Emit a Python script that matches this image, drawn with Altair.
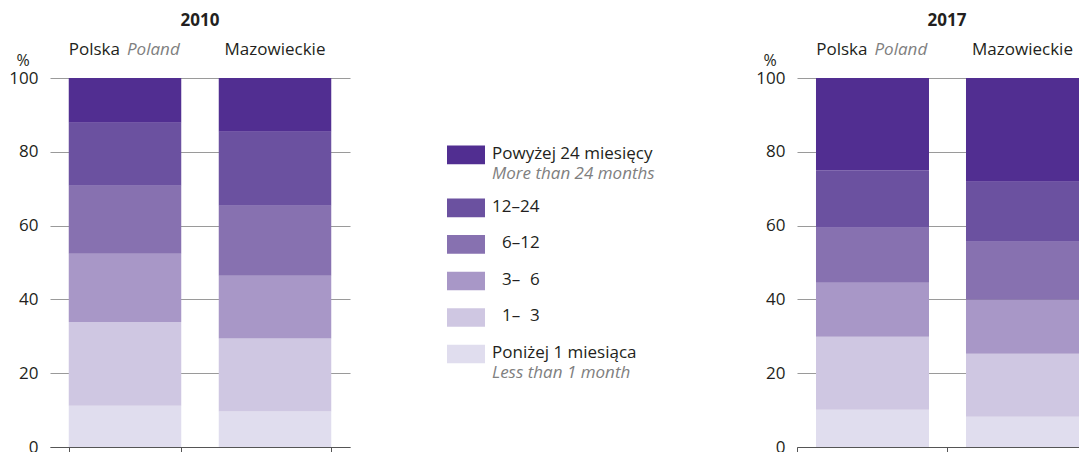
import altair as alt
import pandas as pd

# ---- data ----
categories = ["Polska", "Mazowieckie"]
category_sub = ["Poland", ""]
years = ["2010", "2017"]
# stacked bottom -> top
durations = ["<1", "1-3", "3-6", "6-12", "12-24", ">24"]
values_2010_polska = [11.2, 22.7, 18.5, 18.4, 17.1, 12.1]
values_2010_mazowieckie = [9.6, 19.8, 17.0, 19.0, 20.0, 14.6]
values_2017_polska = [10.1, 19.8, 14.6, 14.9, 15.5, 25.1]
values_2017_mazowieckie = [8.2, 17.1, 14.6, 15.7, 16.3, 28.1]

legend_main = ["Poniżej 1 miesiąca", "1\u2013\u20073", "3\u2013\u20076",
               "6\u201312", "12\u201324", "Powyżej 24 miesięcy"]
legend_sub = ["Less than 1 month", "", "", "", "", "More than 24 months"]

colors = ["#e0ddee", "#cfc7e2", "#a897c7", "#8771b0", "#6b51a0", "#512e91"]
y_ticks = [0, 20, 40, 60, 80, 100]

FONT = "Open Sans"
TXT = "#231f20"
GRAY = "#808080"
FS = 17
H = 369


def panel(year, polska_vals, maz_vals, width, clipped):
    rows = []
    for cat, vals in zip(categories, [polska_vals, maz_vals]):
        for i, (d, v) in enumerate(zip(durations, vals)):
            rows.append({"category": cat, "duration": d, "order": i, "value": v})
    df = pd.DataFrame(rows)
    if clipped:
        xscale = alt.Scale(paddingInner=37 / 150, paddingOuter=0.0633, align=1)
        xaxis = alt.Axis(labels=False, title=None, domain=True, ticks=True,
                         tickOffset=-75, tickSize=8, domainColor="#555555",
                         tickColor="#555555", grid=False)
    else:
        xscale = alt.Scale(paddingInner=0.25, paddingOuter=0.125)
        xaxis = alt.Axis(labels=False, title=None, domain=True, ticks=True,
                         tickBand="extent", tickSize=8, domainColor="#555555",
                         tickColor="#555555", grid=False)
    xenc = alt.X("category:N", sort=categories, scale=xscale, axis=xaxis)
    bars = alt.Chart(df).mark_bar().encode(
        x=xenc,
        y=alt.Y("value:Q", stack="zero", scale=alt.Scale(domain=[0, 100]),
                axis=alt.Axis(values=y_ticks, grid=True, gridColor="#9a9a9a", gridWidth=1.2,
                              domain=False, ticks=False, labelPadding=12, title=None,
                              labelFontSize=FS, labelColor=TXT, labelFont=FONT)),
        color=alt.Color("duration:N", scale=alt.Scale(domain=durations, range=colors), legend=None),
        order=alt.Order("order:Q"),
    )
    lab = pd.DataFrame({"category": categories, "sub": category_sub})
    with_sub = alt.Chart(lab).transform_filter("datum.sub != ''")
    no_sub = alt.Chart(lab).transform_filter("datum.sub == ''")
    xl = alt.X("category:N", sort=categories)
    main1 = with_sub.mark_text(align="right", dx=-5, baseline="alphabetic", fontSize=FS,
                               font=FONT, color=TXT).encode(x=xl, y=alt.value(-23), text="category:N")
    sub1 = with_sub.mark_text(align="left", dx=2, baseline="alphabetic", fontSize=FS, font=FONT,
                              color=GRAY, fontStyle="italic").encode(
        x=xl, y=alt.value(-23), text="sub:N")
    main2 = no_sub.mark_text(align="center", baseline="alphabetic", fontSize=FS, font=FONT,
                             color=TXT).encode(x=xl, y=alt.value(-23), text="category:N")
    ttl = alt.Chart(pd.DataFrame({"t": [year]})).mark_text(
        fontSize=FS, font=FONT, fontWeight="bold", color=TXT, baseline="alphabetic").encode(
        x=alt.value(150), y=alt.value(-52), text="t:N")
    pct = alt.Chart(pd.DataFrame({"t": ["%"]})).mark_text(
        fontSize=FS - 1, font=FONT, color=TXT, baseline="alphabetic").encode(
        x=alt.value(-27), y=alt.value(-12), text="t:N")
    return alt.layer(bars, main1, sub1, main2, ttl, pct).properties(width=width, height=H)


left = panel(years[0], values_2010_polska, values_2010_mazowieckie, 300, False)
right = panel(years[1], values_2017_polska, values_2017_mazowieckie, 282, True)

# ---- legend (middle view) ----
n = len(durations)
pos = []
p = 1.85
for i in range(n - 1, -1, -1):
    pos.append(p)
    p += 1.0 + (0.45 if legend_sub[i] else 0.0)
mains = legend_main[::-1]
leg = pd.DataFrame({
    "duration": durations[::-1],
    "main": mains,
    "sub": legend_sub[::-1],
    "pos": pos,
    "indent": [len(m) > 1 and m[0].isdigit() and not m[1].isdigit() for m in mains],
})
ysc = alt.Scale(domain=[0, 10.1], reverse=True)
base = alt.Chart(leg).transform_calculate(
    pos2="datum.pos + 0.51", ymain="datum.pos + 0.36", ysub="datum.pos + 0.91")
sw = base.mark_rect().encode(
    x=alt.value(77), x2=alt.value(115),
    y=alt.Y("pos:Q", scale=ysc, axis=None), y2="pos2:Q",
    color=alt.Color("duration:N", scale=alt.Scale(domain=durations, range=colors), legend=None))
tm = base.transform_filter("!datum.indent").mark_text(
    align="left", baseline="alphabetic", fontSize=FS, font=FONT, color=TXT).encode(
    x=alt.value(122), y=alt.Y("ymain:Q", scale=ysc, axis=None), text="main:N")
tmi = base.transform_filter("datum.indent").mark_text(
    align="left", baseline="alphabetic", fontSize=FS, font=FONT, color=TXT, dx=10).encode(
    x=alt.value(122), y=alt.Y("ymain:Q", scale=ysc, axis=None), text="main:N")
ts = base.mark_text(align="left", baseline="alphabetic", fontSize=FS, font=FONT, color=GRAY,
                    fontStyle="italic").encode(
    x=alt.value(122), y=alt.Y("ysub:Q", scale=ysc, axis=None), text="sub:N")
middle = alt.layer(sw, tm, tmi, ts).properties(width=407, height=H)

chart = alt.hconcat(left, middle, right, spacing=20, bounds="flush").properties(
    padding={"left": 0, "top": 4, "right": 0, "bottom": 0}
).configure_view(stroke=None)

chart.save("out.html", embed_options={"renderer": "svg", "actions": False})
